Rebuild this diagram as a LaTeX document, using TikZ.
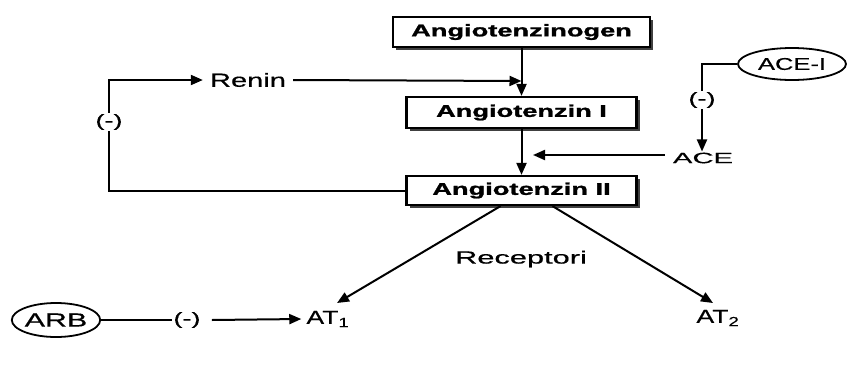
\documentclass[tikz,border=0pt]{standalone}
\usepackage{fontspec}
\usepackage{graphicx}
\setmainfont{Liberation Sans}
\newfontfamily\heavyfont[FakeBold=1.2]{Liberation Sans Bold}
\newfontfamily\regfont[FakeBold=0.4]{Liberation Sans}
\usetikzlibrary{arrows.meta,shadows,shapes.geometric}
\newcommand\wtxt[3]{\fontsize{#1}{#1}\selectfont\scalebox{#2}[1]{#3}}
\begin{document}
\begin{tikzpicture}[x=1pt,y=-1pt,
  box/.style={draw=black, line width=2.2pt, fill=white, minimum height=30pt, inner sep=0pt,
    font=\heavyfont,
    drop shadow={shadow xshift=3pt,shadow yshift=-3pt,fill=black!75,opacity=1}},
  lbl/.style={inner sep=1pt, font=\regfont},
  oval/.style={draw, ellipse, line width=1.8pt, inner sep=0pt, font=\regfont},
  arr/.style={line width=2pt, -{Triangle[length=12pt,width=10pt]}},
  ln/.style={line width=2pt}]
\useasboundingbox (0,0) rectangle (850,378);
\fill[white] (0,0) rectangle (850,378);
% boxes
\node[box, minimum width=257pt] (ag) at (521.5,32) {\wtxt{17}{1.6}{Angiotenzinogen}};
\node[box, minimum width=230pt, minimum height=31pt] (a1) at (521.5,112.5) {\wtxt{17}{1.6}{Angiotenzin I}};
\node[box, minimum width=230pt, minimum height=29pt] (a2) at (521.5,190.5) {\wtxt{17}{1.6}{Angiotenzin II}};
\draw[arr] (ag) -- (a1);
\draw[arr] (a1) -- (a2);
% renin
\node[lbl] (renin) at (248,80) {\wtxt{19}{1.53}{Renin}};
\coordinate (rj) at (521.5,81);
\draw[arr] ([xshift=6pt]renin.east) -- (rj);
% left feedback loop
\node[lbl] (m2) at (109,122) {\wtxt{17}{1.6}{(-)}};
\draw[arr] (m2.north) |- ([xshift=-6pt]renin.west);
\draw[ln] (m2.south) |- (a2.west);
% ACE
\node[lbl] (ace) at (703,158) {\wtxt{15}{1.95}{ACE}};
\coordinate (acej) at (533,155);
\draw[arr] ([xshift=-7pt]ace.west |- acej) -- (acej);
\node[oval, minimum width=108pt, minimum height=32pt] (acei) at (792,64) {\wtxt{17}{1.5}{ACE-I}};
\node[lbl] (m1) at (702,100) {\wtxt{17}{1.6}{(-)}};
\draw[ln] (acei.west) -| (m1.north);
\draw[arr] (m1.south) -- (m1.south |- ace.north);
% receptors
\node[lbl] (rec) at (521,259) {\wtxt{17.7}{1.74}{Receptori}};
\node[lbl] (at1) at (328,319) {\wtxt{19}{1.4}{AT\textsubscript{1}}};
\node[lbl] (at2) at (718,318) {\wtxt{19}{1.4}{AT\textsubscript{2}}};
\coordinate (t1) at (337,303);
\coordinate (t2) at (713,303);
\draw[arr] ([xshift=-21pt]a2.south) -- (t1);
\draw[arr] ([xshift=31pt]a2.south) -- (t2);
% ARB
\node[oval, minimum width=82pt, minimum height=34pt] (arb) at (56,320) {\wtxt{19}{1.6}{ARB}};
\node[lbl] (m3) at (187,320) {\wtxt{17}{1.6}{(-)}};
\draw[ln] (arb.east) -- (m3.west);
\draw[arr] ([xshift=10pt]m3.east) -- ([xshift=-4pt]at1.west);
\end{tikzpicture}
\end{document}
